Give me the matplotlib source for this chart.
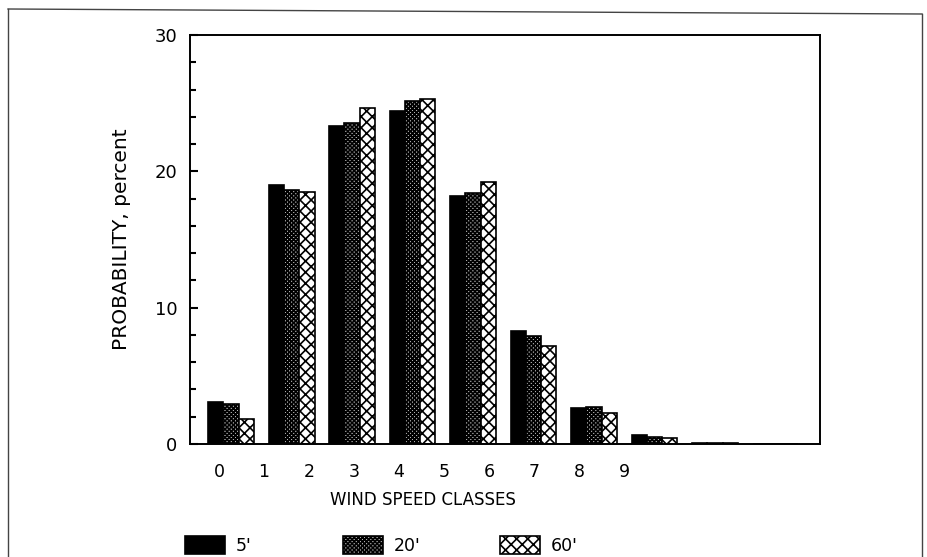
import matplotlib.pyplot as plt
from matplotlib.lines import Line2D
import numpy as np

# wind speed classes and probability (percent) at three heights
classes = ['0', '1', '2', '3', '4', '5', '6', '7', '8', '9']
p_5ft = [3.1, 19.0, 23.3, 24.4, 18.2, 8.25, 2.65, 0.65, 0.1, 0.0]
p_20ft = [2.9, 18.6, 23.55, 25.15, 18.4, 7.9, 2.7, 0.5, 0.08, 0.0]
p_60ft = [1.8, 18.5, 24.65, 25.3, 19.25, 7.2, 2.3, 0.4, 0.05, 0.0]
series_labels = ["5'", "20'", "60'"]

plt.rcParams['font.family'] = ['DejaVu Sans']
plt.rcParams['hatch.linewidth'] = 1.2

fig = plt.figure(figsize=(9.27, 5.57), dpi=100)
ax = fig.add_axes([0.205, 0.203, 0.6796, 0.734])

x = np.arange(len(classes))
w = 0.253
styles = [dict(color='black', edgecolor='black'),
          dict(color='#bbbbbb', edgecolor='black', hatch='xxxxxxxx'),
          dict(color='white', edgecolor='black', hatch='xxx')]
bars = []
for k, vals in enumerate([p_5ft, p_20ft, p_60ft]):
    b = ax.bar(x + (k - 1) * w, vals, w, linewidth=1.2, **styles[k])
    bars.append(b)

ax.set_xlim(-0.678, 9.736)
ax.set_ylim(0, 30)

# class labels sit on their own spacing under the axis
ax.set_xticks(-0.198 + 0.744 * x)
ax.set_xticklabels(classes)
ax.tick_params(axis='x', length=0, pad=14, labelsize=12.5)

ax.set_yticks([0, 10, 20, 30])
ax.set_yticks(np.arange(0, 31, 2), minor=True)
ax.tick_params(axis='y', which='major', direction='in', length=6, width=1.5, pad=9, labelsize=13)
ax.tick_params(axis='y', which='minor', direction='in', length=4, width=1.5)

for s in ax.spines.values():
    s.set_linewidth(1.4)

ax.set_xlabel('WIND SPEED CLASSES', fontsize=12)
ax.xaxis.set_label_coords(0.37, -0.115)
ax.set_ylabel('PROBABILITY, percent', fontsize=14.5)
ax.yaxis.set_label_coords(-0.094, 0.5)

# one legend entry per series, spread along the bottom
legend_x = [185, 343, 500]
for b, lab, lx in zip(bars, series_labels, legend_x):
    leg = fig.legend(handles=[b], labels=[lab], loc='lower left',
                     bbox_to_anchor=(lx / 927, 2 / 557),
                     frameon=False, fontsize=12.5, handlelength=2.3, handleheight=1.2,
                     handletextpad=0.6, borderpad=0.0, borderaxespad=0.0)

# thin outer frame, open at the bottom
frame_kw = dict(color='#444444', linewidth=1.0, transform=fig.transFigure)
fig.add_artist(Line2D([8 / 927, 8 / 927], [0, 1 - 9 / 557], **frame_kw))
fig.add_artist(Line2D([8 / 927, 922 / 927], [1 - 9 / 557, 1 - 14 / 557], **frame_kw))
fig.add_artist(Line2D([922 / 927, 922 / 927], [1 - 14 / 557, 0], **frame_kw))

fig.savefig('out.png', dpi=100)
